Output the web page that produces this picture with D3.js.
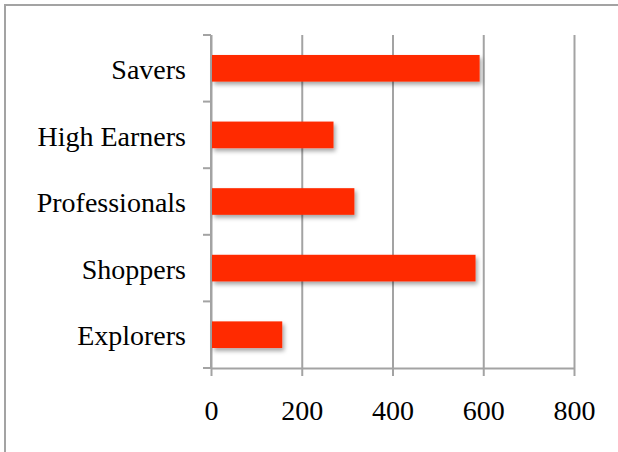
<!DOCTYPE html>
<html>
<head>
<meta charset="utf-8">
<script src="https://cdn.jsdelivr.net/npm/d3@7"></script>
<style>
  body { margin: 0; background: #fff; }
  svg { display: block; }
</style>
</head>
<body>
<div id="chart"></div>
<script>
// data
const categories = ['Savers', 'High Earners', 'Professionals', 'Shoppers', 'Explorers'];
const values = [592, 270, 316, 583, 157];
const xTicks = [0, 200, 400, 600, 800];

const width = 618, height = 452;
const margin = { top: 35, right: 44, bottom: 84, left: 211 };
const plotW = width - margin.left - margin.right;
const plotH = height - margin.top - margin.bottom;
const gridColor = '#a3a3a3';
const font = '"Liberation Serif", "Times New Roman", serif';
const fontSize = 28;

const svg = d3.select('#chart').append('svg')
    .attr('width', width)
    .attr('height', height);

// drop shadow under the bars
const defs = svg.append('defs');
defs.append('filter')
    .attr('id', 'shadow')
    .attr('x', '-10%').attr('y', '-30%')
    .attr('width', '130%').attr('height', '180%')
  .append('feDropShadow')
    .attr('dx', 2).attr('dy', 3)
    .attr('stdDeviation', 2)
    .attr('flood-color', '#000')
    .attr('flood-opacity', 0.35);

// outer frame (runs off the right and bottom)
svg.append('rect')
    .attr('x', 5).attr('y', 5)
    .attr('width', 700).attr('height', 500)
    .attr('fill', 'none')
    .attr('stroke', gridColor)
    .attr('stroke-width', 2);

const g = svg.append('g')
    .attr('transform', `translate(${margin.left},${margin.top})`);

const x = d3.scaleLinear().domain([0, 800]).range([0, plotW]);
const y = d3.scaleBand()
    .domain(categories)
    .range([0, plotH])
    .paddingInner(0.6)
    .paddingOuter(0.3);

// vertical gridlines + bottom ticks
const xAxis = g.append('g')
    .attr('transform', `translate(0,${plotH})`)
    .call(d3.axisBottom(x).tickValues(xTicks).tickSize(8).tickPadding(24).tickSizeOuter(0));
xAxis.select('.domain').attr('stroke', gridColor).attr('stroke-width', 2);
xAxis.selectAll('.tick line')
    .attr('y1', -plotH)
    .attr('stroke', gridColor)
    .attr('stroke-width', 2);
xAxis.selectAll('.tick text')
    .attr('font-family', font)
    .attr('font-size', fontSize)
    .attr('fill', '#000');

// y axis line with ticks at the band boundaries
const boundaries = d3.range(categories.length + 1).map(i => i * y.step());
const yLine = g.append('g');
yLine.append('line')
    .attr('x1', 0).attr('x2', 0)
    .attr('y1', 0).attr('y2', plotH)
    .attr('stroke', gridColor)
    .attr('stroke-width', 2);
yLine.selectAll('line.tk')
    .data(boundaries)
    .join('line')
    .attr('class', 'tk')
    .attr('x1', -8).attr('x2', 0)
    .attr('y1', d => d).attr('y2', d => d)
    .attr('stroke', gridColor)
    .attr('stroke-width', 2);

// category labels
const yAxis = g.append('g')
    .call(d3.axisLeft(y).tickSize(0).tickPadding(25));
yAxis.select('.domain').remove();
yAxis.selectAll('.tick text')
    .attr('font-family', font)
    .attr('font-size', fontSize)
    .attr('dy', '0.38em')
    .attr('fill', '#000');

// bars
g.selectAll('rect.bar')
    .data(categories)
    .join('rect')
    .attr('class', 'bar')
    .attr('x', x(0) + 1)
    .attr('y', d => y(d))
    .attr('width', (d, i) => x(values[i]) - x(0) - 1)
    .attr('height', y.bandwidth())
    .attr('fill', '#ff2a00')
    .attr('filter', 'url(#shadow)');
</script>
</body>
</html>
